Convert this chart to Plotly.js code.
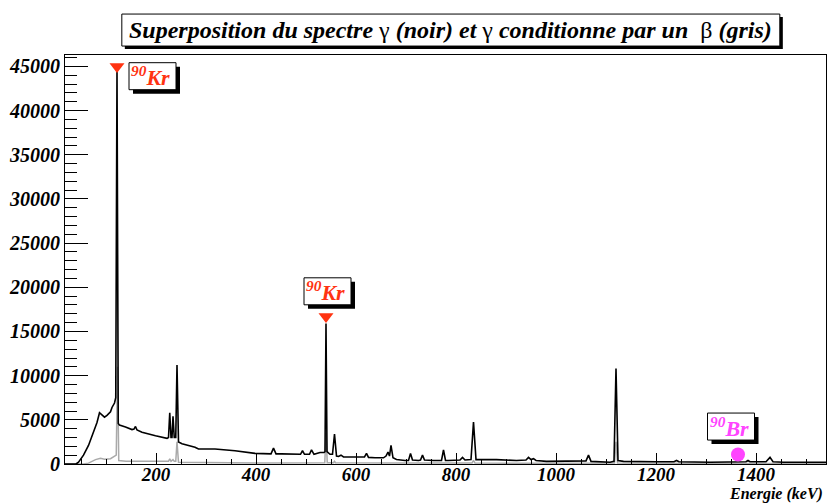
<!DOCTYPE html>
<html>
<head>
<meta charset="utf-8">
<script src="https://cdn.plot.ly/plotly-3.0.1.min.js"></script>
<style>
html,body{margin:0;padding:0;background:#fff;}
#chart{width:827px;height:504px;}
#chart svg text{font-family:'Liberation Serif', serif !important;}
</style>
</head>
<body>
<div id="chart"></div>
<script>
// Black spectrum (all gamma): energy (keV) and counts
const gammaEnergy = [18,30,40,45,55,65,75,82,87,92,97,102,109,112,117,119.5,122,124.5,127,139,152,156,159,162,172,199,222,225,227.5,230,232,234,236.5,239.5,242,245,252,278,285,318,358,398,430,435,440,451,478,489,493,497,507,511,516,528,536,538,540,542,548,553,557,561,565,570,575,598,617,621,625,638,655,660,664,667,670,674,681,698,705,709,713,725,729,733,737,755,771,775,779,785,808,813,818,830,835,840,845,881,921,940,945,950,955,960,981,1028,1040,1060,1065,1070,1108,1116,1120,1124,1135,1168,1175,1200,1236,1241,1246,1308,1380,1384,1388,1420,1428,1434,1455,1508,1540];
const gammaCounts = [0,0,0,200,1000,2100,3600,4700,5800,5600,5300,5500,5900,6400,6900,7500,44900,4600,4400,4200,3900,3950,4250,3850,3600,3200,2900,3000,5800,3000,3000,5400,3000,3000,11200,2500,2300,1900,1700,1700,1500,1200,1150,1800,1150,1150,1100,1100,1500,1100,1100,1600,1100,1300,1300,1400,15900,1400,1100,1100,3400,900,850,1000,800,800,800,1200,750,700,700,900,1350,900,2100,700,500,400,400,1200,450,400,450,1000,450,400,400,1600,400,400,450,750,450,500,4750,500,500,500,400,450,750,500,600,400,300,300,300,350,1000,300,200,300,10800,400,300,250,300,250,250,400,250,200,250,400,250,250,750,250,200,200,200];
// Grey spectrum (gamma in coincidence with a beta)
const betaEnergy = [18,55,65,79,89,97,109,116,120.5,123,125.5,140,200,225,227.5,230,234,236.5,239.5,242,245,300,400,537.5,540,542.5,555,557,559,700,832,835,838,1000,1117,1120,1123,1540];
const betaCounts = [0,0,100,500,650,550,600,800,1000,11000,400,300,250,300,600,300,500,300,300,2500,200,150,120,150,3500,150,150,300,150,100,100,400,100,80,100,2500,100,50];
// Identified peak markers
const krMarkE = [122, 540];
const krMarkC = [45000, 16700];
const brMarkE = [1364];
const brMarkC = [1080];
// Axis ticks
const xTicks = [200,400,600,800,1000,1200,1400];
const yTicks = [0,5000,10000,15000,20000,25000,30000,35000,40000,45000];
// Label boxes: anchor energy, anchor counts, text, colour
const labelE = [193, 543, 1350];
const labelC = [43900, 19550, 4240];
const labelText = ['<sup>90</sup>Kr','<sup>90</sup>Kr','<sup>90</sup>Br'];
const labelColor = ['#ff3311','#ff3311','#ff44ff'];

const FONT = 'Liberation Serif';

const traces = [
  {x: betaEnergy, y: betaCounts, type:'scatter', mode:'lines', line:{color:'#aaaaaa', width:1.5}, hoverinfo:'skip'},
  {x: gammaEnergy, y: gammaCounts, type:'scatter', mode:'lines', line:{color:'#000000', width:1.6}, hoverinfo:'skip'},
  {x: krMarkE, y: krMarkC, type:'scatter', mode:'markers', marker:{symbol:'triangle-down', size:13, color:'#ff3311'}, hoverinfo:'skip'},
  {x: brMarkE, y: brMarkC, type:'scatter', mode:'markers', marker:{symbol:'circle', size:14, color:'#ff44ff'}, hoverinfo:'skip'}
];

const shapes = [];
const annotations = [];
// title box (shadow + frame) built as pixel-sized shapes
const TW = 658, TH = 32;
shapes.push({type:'rect', xref:'paper', yref:'paper', xsizemode:'pixel', ysizemode:'pixel', xanchor:0.507, yanchor:1.061,
  x0:-TW/2+3, x1:TW/2+3, y0:-TH/2-3, y1:TH/2-3, fillcolor:'#000', line:{width:0}, layer:'above'});
shapes.push({type:'rect', xref:'paper', yref:'paper', xsizemode:'pixel', ysizemode:'pixel', xanchor:0.507, yanchor:1.061,
  x0:-TW/2, x1:TW/2, y0:-TH/2, y1:TH/2, fillcolor:'#fff', line:{color:'#000', width:1}, layer:'above'});
const titleText = 'Superposition du spectre <span style="font-style:normal;font-weight:normal">γ</span> (noir) et <span style="font-style:normal;font-weight:normal">γ</span> conditionne par un  <span style="font-style:normal;font-weight:normal">β</span> (gris)';
annotations.push({xref:'paper', yref:'paper', x:0.507, y:1.061, xanchor:'center', yanchor:'middle', showarrow:false, text:titleText,
  font:{family:FONT, size:24, color:'#000', weight:'bold', style:'italic'}});
const BW = 47, BH = 27;
for (let i = 0; i < labelE.length; i++) {
  shapes.push({type:'rect', xref:'x', yref:'y', xsizemode:'pixel', ysizemode:'pixel', xanchor:labelE[i], yanchor:labelC[i],
    x0:-BW/2+4, x1:BW/2+4, y0:-BH/2-4, y1:BH/2-4, fillcolor:'#000', line:{width:0}, layer:'above'});
  shapes.push({type:'rect', xref:'x', yref:'y', xsizemode:'pixel', ysizemode:'pixel', xanchor:labelE[i], yanchor:labelC[i],
    x0:-BW/2, x1:BW/2, y0:-BH/2, y1:BH/2, fillcolor:'#fff', line:{color:'#000', width:1}, layer:'above'});
  annotations.push({xref:'x', yref:'y', x:labelE[i], y:labelC[i], xanchor:'center', yanchor:'middle', xshift:-2, showarrow:false, text:labelText[i],
    font:{family:FONT, size:22, color:labelColor[i], weight:'bold', style:'italic'}});
}
annotations.push({xref:'paper', yref:'paper', x:1, y:-0.0978, xanchor:'right', yanchor:'bottom', xshift:-2, yshift:0, borderpad:0, showarrow:false, text:'Energie (keV)',
  font:{family:FONT, size:16, color:'#000', weight:'bold', style:'italic'}});

const layout = {
  width:827, height:504,
  margin:{l:65, r:1, t:55, b:40, pad:0},
  paper_bgcolor:'#fff', plot_bgcolor:'#fff',
  font:{family:FONT},
  showlegend:false,
  xaxis:{range:[18,1540], tickvals:xTicks, ticktext:xTicks.map(String), ticks:'inside', ticklen:11, tickwidth:1, tickcolor:'#000',
    ticklabelstandoff:-7,
    minor:{dtick:50, tick0:0, ticks:'inside', ticklen:5, tickwidth:1, tickcolor:'#000'},
    showgrid:false, zeroline:false, showline:true, linecolor:'#000', linewidth:1, mirror:true,
    tickfont:{family:FONT, size:19, color:'#000', weight:'bold', style:'italic'}},
  yaxis:{range:[0,46300], tickvals:yTicks, ticktext:yTicks.map(String), ticks:'inside', ticklen:23, tickwidth:1, tickcolor:'#000',
    minor:{dtick:1000, tick0:0, ticks:'inside', ticklen:12, tickwidth:1, tickcolor:'#000'},
    showgrid:false, zeroline:false, showline:true, linecolor:'#000', linewidth:1, mirror:true,
    tickfont:{family:FONT, size:20, color:'#000', weight:'bold', style:'italic'}},
  shapes: shapes,
  annotations: annotations
};
Plotly.newPlot('chart', traces, layout, {staticPlot:true, displayModeBar:false});
</script>
</body>
</html>
